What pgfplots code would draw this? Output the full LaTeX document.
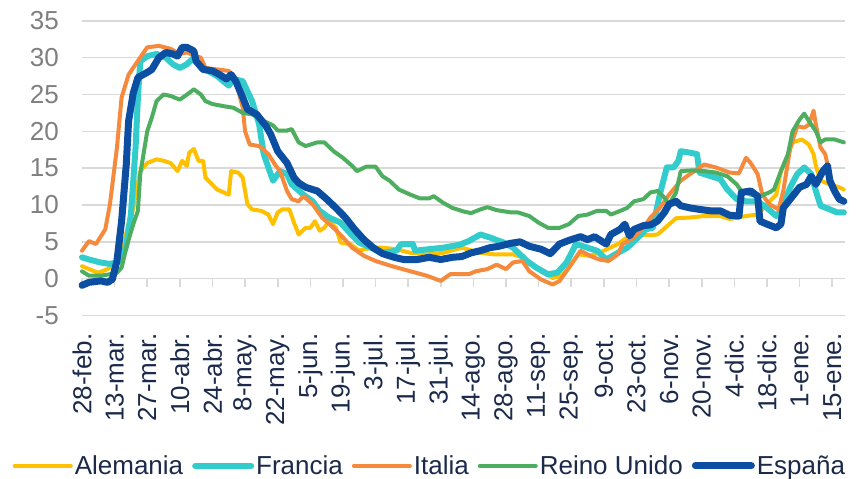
\documentclass[border=0pt]{standalone}
\usepackage{pgfplots}
\pgfplotsset{compat=1.18}
\usepackage{fontspec}
\setmainfont{Liberation Sans}

\definecolor{cAle}{HTML}{FFC000}
\definecolor{cFra}{HTML}{33CCCC}
\definecolor{cIta}{HTML}{F58A3C}
\definecolor{cRU}{HTML}{4DAE60}
\definecolor{cEsp}{HTML}{0B4EA2}
\definecolor{gridgray}{HTML}{D9D9D9}
\definecolor{labgray}{HTML}{7F7F7F}
\definecolor{navy}{HTML}{1B2A4A}
\newcommand\fsz{\fontsize{26}{31}\selectfont}

\begin{document}
\begin{tikzpicture}
\useasboundingbox (-82pt,-163.5pt) rectangle (777pt,315.5pt);
% tick marks hanging from the zero line: an axis whose bottom is y=0
\begin{axis}[
    at={(0pt,36.84pt)}, anchor=south west,
    scale only axis, width=763pt, height=257.86pt,
    xmin=0, xmax=327.5, ymin=0, ymax=35,
    axis x line*=bottom, axis y line=none,
    axis line style={draw=none},
    xtick={0,14,...,322}, xticklabels={}, ytick=\empty,
    tick align=outside, major tick length=8pt,
    xtick style={draw=gridgray, line width=1.6pt},
    ]
\end{axis}
\begin{axis}[
    scale only axis, width=763pt, height=294.7pt,
    xmin=0, xmax=327.5, ymin=-5, ymax=35,
    axis line style={draw=none},
    major tick length=0pt,
    ytick={-5,0,...,35},
    yticklabels={-5,0,5,10,15,20,25,30,35},
    xtick={0,14,...,322},
    xticklabels={28-feb.,13-mar.,27-mar.,10-abr.,24-abr.,8-may.,22-may.,5-jun.,19-jun.,3-jul.,17-jul.,31-jul.,14-ago.,28-ago.,11-sep.,25-sep.,9-oct.,23-oct.,6-nov.,20-nov.,4-dic.,18-dic.,1-ene.,15-ene.},
    ymajorgrids,
    grid style={draw=gridgray, line width=1.6pt},
    yticklabel style={font=\fsz, text=labgray, inner sep=0pt, anchor=east},
    yticklabel shift=23pt,
    xticklabel style={font=\fsz, text=navy, rotate=90, anchor=east, inner sep=0pt},
    xticklabel shift=18pt,
    clip=false,
    legend columns=-1,
    legend style={at={(axis description cs:0.456,-0.51)}, anchor=center,
      draw=none, fill=none, font=\fsz, text=navy,
      nodes={inner sep=2pt},
      /tikz/every even column/.append style={column sep=7pt}},
    legend image code/.code={\draw[#1, line cap=round] (0pt,0pt) -- (56pt,0pt);},
    every axis plot/.append style={line join=round, line cap=round},
    ]
\addplot[color=cAle, line width=4pt] coordinates {
(0,1.7)(3,1.3)(7,0.8)(11,1.3)(14,2.0)(17,3.5)(20,7.5)(22,9.5)(23,11.4)(25,14.6)(28,15.7)
(32,16.2)(35,16.0)(38,15.7)(41,14.6)(43,16.0)(45,15.3)(46,17.1)(48,17.6)(50,16.0)(52,16.0)
(53,13.7)(58,12.1)(63,11.4)(64,14.6)(67,14.4)(69,13.7)(71,10.1)(73,9.4)(77,9.2)(80,8.7)
(82,7.4)(84,9.0)(86,9.4)(89,9.4)(91,7.6)(93,6.0)(96,6.9)(98,6.9)(100,7.8)(102,6.5)(104,6.9)
(106,7.8)(109,6.9)(111,4.9)(115,4.7)(119,3.8)(124,4.2)(129,4.2)(135,4.0)(141,3.5)(148,3.3)
(155,3.5)(163,4.2)(171,3.5)(177,3.3)(185,3.3)(189,2.9)(192,2.2)(197,1.0)(202,0.1)(206,0.4)
(209,1.5)(213,3.3)(218,3.1)(224,3.8)(230,4.7)(234,5.6)(238,6.0)(244,5.9)(247,6.0)(251,7.1)
(255,8.2)(261,8.3)(267,8.5)(274,8.5)(278,8.1)(285,8.5)(290,8.7)(294,10.1)(298,11.4)(300,14.6)
(303,16.7)(305,18.5)(309,18.9)(312,18.2)(314,16.9)(315,15.3)(317,13.3)(321,12.8)(325,12.4)(327,12.1)
};
\addplot[color=cFra, line width=6pt] coordinates {
(0,2.9)(3,2.6)(8,2.2)(12,2.0)(15,2.2)(17,2.6)(19,4.5)(21,8.7)(23,17.8)(24,24.6)(25,29.5)
(28,30.2)(32,30.5)(36,30.0)(39,29.1)(42,28.6)(45,29.1)(48,30.0)(50,29.1)(53,28.4)(58,27.5)
(63,26.2)(65,27.1)(69,26.8)(73,24.1)(76,21.0)(78,16.9)(80,15.1)(82,13.3)(85,14.6)(88,14.2)
(90,12.8)(95,11.4)(99,10.5)(102,9.2)(106,8.3)(111,7.6)(115,6.2)(119,4.9)(124,4.2)(129,3.5)
(135,3.8)(137,4.7)(142,4.7)(143,3.8)(149,4.0)(155,4.2)(162,4.6)(166,5.1)(171,6.0)(175,5.6)
(181,4.9)(185,4.2)(188,3.3)(191,2.4)(195,1.5)(200,0.6)(204,0.8)(208,2.2)(212,4.7)(217,4.2)
(221,3.8)(225,2.6)(230,3.5)(234,4.2)(237,5.1)(240,6.0)(242,6.7)(245,6.9)(248,11.4)(251,15.1)
(254,15.1)(256,16.0)(257,17.3)(261,17.1)(264,16.9)(265,14.4)(270,13.9)(274,13.5)(277,12.1)
(281,10.8)(285,10.5)(290,10.5)(294,9.6)(298,8.5)(300,9.2)(304,12.4)(307,14.2)(310,15.1)
(313,14.2)(315,11.9)(317,9.9)(321,9.4)(324,9.0)(327,9.0)
};
\addplot[color=cIta, line width=4pt] coordinates {
(0,3.8)(3,5.1)(6,4.7)(10,6.7)(12,10.1)(15,17.8)(17,24.6)(20,27.7)(23,29.1)(28,31.4)(33,31.6)
(38,31.2)(42,30.5)(45,30.7)(49,30.2)(51,30.0)(53,28.6)(58,28.4)(63,28.2)(66,26.8)(69,23.2)
(70,20.0)(72,18.2)(76,18.0)(80,16.9)(83,15.4)(85,14.6)(88,11.9)(90,10.8)(93,10.5)(95,11.2)
(99,10.1)(103,8.3)(108,6.9)(112,5.6)(116,4.2)(121,3.1)(126,2.4)(133,1.7)(141,1.0)(148,0.4)
(154,-0.3)(158,0.6)(166,0.6)(169,1.0)(174,1.3)(178,1.9)(182,1.3)(185,2.2)(189,2.4)(192,1.0)
(197,-0.1)(202,-0.8)(205,-0.3)(209,1.5)(214,3.8)(218,3.1)(222,2.6)(226,2.4)(230,3.3)(232,4.7)
(237,5.6)(241,6.9)(244,8.3)(248,9.6)(252,11.4)(257,13.3)(261,14.2)(267,15.5)(272,15.1)
(278,14.4)(282,14.3)(285,16.4)(287,15.7)(290,14.2)(292,11.4)(295,10.1)(299,9.4)(301,11.9)
(304,17.8)(307,20.7)(310,20.5)(312,20.9)(314,22.8)(315,20.9)(317,17.8)(319,16.9)(322,12.8)
(325,10.8)(327,10.5)
};
\addplot[color=cRU, line width=4pt] coordinates {
(0,1.0)(3,0.4)(8,0.4)(12,0.6)(15,0.8)(17,1.5)(19,4.2)(22,7.4)(24,9.2)(25,14.2)(28,20.0)
(30,21.9)(32,24.1)(35,25.0)(38,24.8)(42,24.3)(46,25.2)(48,25.7)(51,25.0)(53,24.1)(56,23.7)
(61,23.4)(65,23.2)(69,22.5)(73,22.3)(78,21.4)(82,20.8)(84,20.1)(88,20.1)(90,20.3)(93,18.5)
(96,18.0)(101,18.5)(104,18.5)(108,17.3)(112,16.4)(116,15.3)(118,14.6)(122,15.2)(126,15.2)
(129,13.9)(132,13.3)(136,12.1)(141,11.4)(145,10.9)(149,10.9)(151,11.2)(155,10.3)(159,9.6)
(164,9.1)(167,8.9)(171,9.4)(174,9.7)(178,9.3)(184,9.0)(187,9.0)(192,8.5)(196,7.6)(200,6.9)
(205,6.9)(209,7.4)(213,8.5)(217,8.7)(221,9.2)(225,9.2)(227,8.7)(231,9.2)(234,9.6)(237,10.5)
(241,10.8)(244,11.7)(247,11.9)(250,11.0)(252,10.1)(255,11.7)(257,14.6)(262,14.7)(267,14.6)
(272,14.4)(277,13.9)(281,12.8)(283,11.9)(287,11.4)(291,11.2)(295,11.7)(297,12.1)(300,14.6)
(303,16.9)(305,20.0)(308,21.6)(310,22.4)(312,21.4)(315,20.0)(317,18.5)(319,18.9)(323,18.9)(327,18.5)
};
\addplot[color=cEsp, line width=7pt] coordinates {
(0,-0.9)(3,-0.5)(8,-0.3)(11,-0.5)(13,-0.1)(15,2.4)(17,7.8)(19,15.5)(20,21.4)(22,25.2)(24,27.3)
(28,28.0)(30,28.4)(33,30.0)(36,30.7)(39,30.5)(41,30.2)(43,31.4)(45,31.4)(48,30.9)(49,29.5)
(52,28.4)(56,28.2)(59,27.7)(62,27.1)(64,27.7)(66,26.8)(69,24.6)(71,23.0)(75,22.3)(79,20.7)
(81,19.6)(84,17.3)(88,15.7)(91,13.7)(93,13.0)(96,12.4)(101,11.9)(105,10.8)(109,9.6)(113,8.3)
(117,6.7)(121,5.3)(125,4.2)(129,3.4)(134,2.9)(138,2.6)(144,2.6)(149,2.9)(154,2.6)(159,2.9)
(163,3.0)(167,3.5)(171,3.8)(175,4.2)(179,4.4)(184,4.8)(188,5.0)(192,4.4)(197,4.0)(201,3.4)
(205,4.7)(209,5.2)(214,5.7)(217,5.3)(220,5.7)(225,4.7)(227,6.0)(231,6.7)(233,7.4)(235,5.8)
(237,6.7)(241,7.2)(244,7.3)(247,7.8)(250,9.0)(252,10.1)(255,10.5)(257,9.9)(261,9.6)(265,9.4)
(270,9.2)(274,9.2)(278,8.6)(282,8.5)(283,11.7)(287,11.9)(290,11.2)(291,7.8)(294,7.4)(298,6.9)
(300,7.4)(301,9.6)(305,11.2)(308,12.4)(311,12.8)(313,13.9)(315,12.8)(318,14.6)(320,15.3)
(321,13.3)(323,11.9)(325,10.8)(327,10.5)
};
\legend{Alemania,Francia,Italia,Reino Unido,España}
\end{axis}
\end{tikzpicture}
\end{document}
